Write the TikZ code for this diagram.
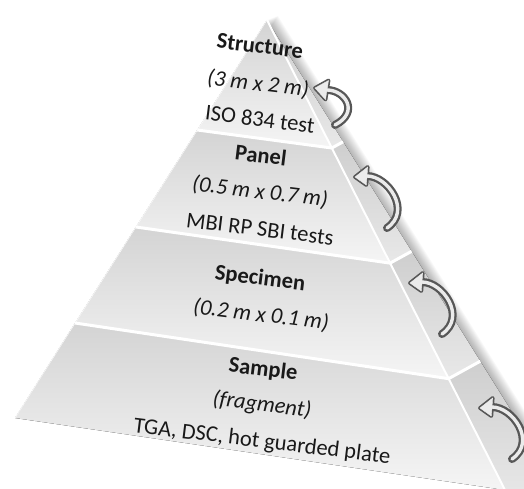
\documentclass[tikz,border=0pt]{standalone}
\usepackage{fontspec}
\setmainfont{Carlito}
\newcommand\cvarrow[7]{%
  \draw[arrdark, fill=none, line width=8pt, line cap=round] #4 .. controls #5 and #6 .. #7;
  \filldraw[arrdark, line width=3.8pt, line join=round] #1 -- #2 -- #3 -- cycle;
  \fill[arrlight] #1 -- #2 -- #3 -- cycle;
  \draw[arrlight, fill=none, line width=3.4pt, line cap=round] #4 .. controls #5 and #6 .. #7;
}
\begin{document}
\begin{tikzpicture}[x=1pt,y=-1pt,
  lbl/.style={inner sep=0pt, rotate=-7, text=black!90},
  ttl/.style={lbl, font=\fontsize{22.5}{26}\selectfont\bfseries},
  dim/.style={lbl, font=\fontsize{22.5}{26}\selectfont\itshape},
  txt/.style={lbl, font=\fontsize{22.5}{26}\selectfont},
  sep/.style={white, line width=3pt, line join=round},
  band/.style={top color=black!17, bottom color=black!4},
  sideband/.style={top color=black!19, bottom color=black!9},
  arrdark/.style={draw=black!66, fill=black!66},
  arrlight/.style={draw=black!8, fill=black!8}]
\useasboundingbox (0,0) rectangle (524,488);
\clip (0,0) rectangle (524,488);

% key points
\coordinate (P) at (267,20);
\coordinate (Lb) at (15,418);
\coordinate (Rb) at (505,490);
\coordinate (Ob) at (567,500);
\coordinate (L1) at (197.3,130);
\coordinate (L2) at (135.9,227);
\coordinate (L3) at (75.1,323);
\coordinate (R1) at (331.8,148.0);
\coordinate (R2) at (390.1,263.1);
\coordinate (R3) at (448.6,378.65);
\coordinate (O1) at (343.1,141.8);
\coordinate (O2) at (411.6,251.3);
\coordinate (O3) at (480.3,361.2);

% soft shadow
\foreach \i in {1,...,12}
  \fill[black, opacity=0.028] ([shift={(\i*0.9,-\i*0.35)}]P) -- ([shift={(\i*0.9,-\i*0.35)}]Ob)
     -- ([shift={(\i*0.9,-\i*0.35)}]Rb) -- ([shift={(\i*0.9,-\i*0.35)}]Lb) -- cycle;

% front bands
\fill[band] (P) -- (R1) -- (L1) -- cycle;
\fill[band] (L1) -- (R1) -- (R2) -- (L2) -- cycle;
\fill[band] (L2) -- (R2) -- (R3) -- (L3) -- cycle;
\fill[band] (L3) -- (R3) -- (Rb) -- (Lb) -- cycle;
% side bands
\fill[sideband] (P) -- (O1) -- (R1) -- cycle;
\fill[sideband] (R1) -- (O1) -- (O2) -- (R2) -- cycle;
\fill[sideband] (R2) -- (O2) -- (O3) -- (R3) -- cycle;
\fill[sideband] (R3) -- (O3) -- (Ob) -- (Rb) -- cycle;

% separators
\draw[sep] (L1) -- (R1) -- (O1);
\draw[sep] (L2) -- (R2) -- (O2);
\draw[sep] (L3) -- (R3) -- (O3);
\draw[white, line width=2pt] (P) -- (Rb);
\draw[white, line width=0.6pt] (P) -- (Lb);

% labels
\node[ttl] (s1) at (260,46) {Structure};
\node[dim] (d1) at (258,84) {(3 m x 2 m)};
\node[txt] (t1) at (260,119) {ISO 834 test};
\node[ttl] (s2) at (261,155) {Panel};
\node[dim] (d2) at (260,192) {(0.5 m x 0.7 m)};
\node[txt] (t2) at (260,229) {MBI RP SBI tests};
\node[ttl] (s3) at (260,279) {Specimen};
\node[dim] (d3) at (261,315) {(0.2 m x 0.1 m)};
\node[ttl] (s4) at (263,370) {Sample};
\node[dim] (d4) at (262,405) {(fragment)};
\node[txt] (t4) at (262,442) {TGA, DSC, hot guarded plate};

% curved arrows
\cvarrow{(315,88)}{(328.5,80.5)}{(325.5,99.5)}{(327,90)}{(345,90)}{(360,112)}{(335,125)}
\foreach \tx/\ty in {355/177, 410/283, 480/408}{
  \begin{scope}[shift={(\tx,\ty)}]
    \cvarrow{(0,0)}{(12.7,-10)}{(11.3,8)}{(12,-1)}{(33,-1)}{(57,34)}{(32,51)}
  \end{scope}
}
\end{tikzpicture}
\end{document}
